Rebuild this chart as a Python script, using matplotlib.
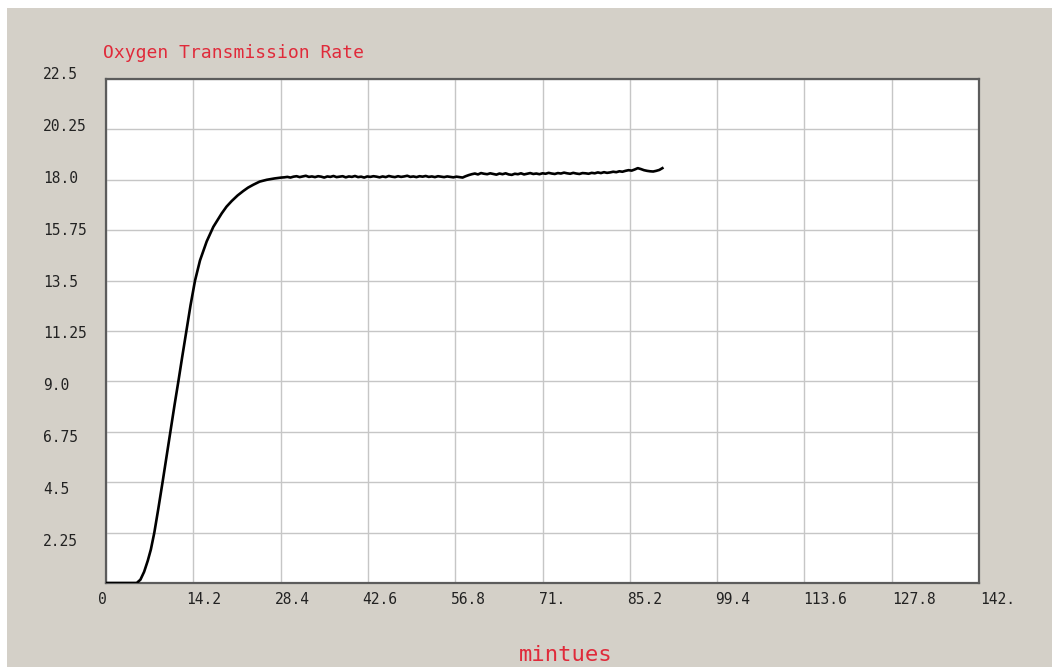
import matplotlib
matplotlib.use("Agg")
import matplotlib.pyplot as plt
from matplotlib.patches import Rectangle

# ---- data ----
x_ticks = [0, 14.2, 28.4, 42.6, 56.8, 71.0, 85.2, 99.4, 113.6, 127.8, 142.0]
x_tick_labels = ["0", "14.2", "28.4", "42.6", "56.8", "71.", "85.2", "99.4", "113.6", "127.8", "142."]
y_ticks = [2.25, 4.5, 6.75, 9.0, 11.25, 13.5, 15.75, 18.0, 20.25, 22.5]
y_tick_labels = ["2.25", "4.5", "6.75", "9.0", "11.25", "13.5", "15.75", "18.0", "20.25", "22.5"]

# rising part of the curve
rise_minutes = [0.0, 2.5, 5.0, 5.6, 6.2, 6.8, 7.3, 7.86, 8.5, 9.2, 9.85, 10.5, 11.15, 11.8,
                12.4, 13.05, 13.75, 14.48, 15.29, 16.38, 17.46, 18.82, 19.6, 20.44, 21.4,
                22.33, 23.1, 23.96, 25.0, 26.14, 27.4, 28.5]
rise_otr = [0.0, 0.0, 0.0, 0.15, 0.5, 1.0, 1.5, 2.25, 3.3, 4.5, 5.65, 6.8, 7.95, 9.05,
            10.1, 11.2, 12.4, 13.5, 14.4, 15.25, 15.9, 16.5, 16.8, 17.05, 17.3,
            17.5, 17.65, 17.78, 17.92, 18.0, 18.06, 18.1]

# plateau part of the curve (read every half minute)
plateau_minutes = [29.0, 29.5, 30.0, 30.5, 31.0, 31.5, 32.0, 32.5, 33.0, 33.5,
                   34.0, 34.5, 35.0, 35.5, 36.0, 36.5, 37.0, 37.5, 38.0, 38.5,
                   39.0, 39.5, 40.0, 40.5, 41.0, 41.5, 42.0, 42.5, 43.0, 43.5,
                   44.0, 44.5, 45.0, 45.5, 46.0, 46.5, 47.0, 47.5, 48.0, 48.5,
                   49.0, 49.5, 50.0, 50.5, 51.0, 51.5, 52.0, 52.5, 53.0, 53.5,
                   54.0, 54.5, 55.0, 55.5, 56.0, 56.5, 57.0, 57.5, 58.0, 58.5,
                   59.0, 59.5, 60.0, 60.5, 61.0, 61.5, 62.0, 62.5, 63.0, 63.5,
                   64.0, 64.5, 65.0, 65.5, 66.0, 66.5, 67.0, 67.5, 68.0, 68.5,
                   69.0, 69.5, 70.0, 70.5, 71.0, 71.5, 72.0, 72.5, 73.0, 73.5,
                   74.0, 74.5, 75.0, 75.5, 76.0, 76.5, 77.0, 77.5, 78.0, 78.5,
                   79.0, 79.5, 80.0, 80.5, 81.0, 81.5, 82.0, 82.5, 83.0, 83.5,
                   84.0, 84.5, 85.0, 85.5, 86.0, 86.5, 87.0, 87.5, 88.0, 88.5,
                   89.0, 89.5, 90.0, 90.5]
plateau_otr = [18.11, 18.13, 18.10, 18.14, 18.16, 18.12, 18.15, 18.18, 18.13, 18.15,
               18.12, 18.16, 18.14, 18.10, 18.15, 18.13, 18.17, 18.12, 18.14, 18.16,
               18.11, 18.15, 18.13, 18.17, 18.12, 18.14, 18.10, 18.15, 18.13, 18.16,
               18.14, 18.11, 18.15, 18.12, 18.17, 18.14, 18.12, 18.16, 18.13, 18.15,
               18.18, 18.13, 18.15, 18.12, 18.16, 18.14, 18.17, 18.13, 18.15, 18.12,
               18.16, 18.14, 18.12, 18.15, 18.13, 18.11, 18.14, 18.12, 18.10, 18.16,
               18.21, 18.25, 18.28, 18.24, 18.30, 18.27, 18.25, 18.29, 18.26, 18.23,
               18.28, 18.25, 18.29, 18.24, 18.22, 18.27, 18.25, 18.29, 18.24, 18.27,
               18.30, 18.26, 18.28, 18.25, 18.29, 18.27, 18.31, 18.28, 18.26, 18.30,
               18.28, 18.32, 18.29, 18.27, 18.31, 18.28, 18.26, 18.30, 18.29, 18.27,
               18.31, 18.29, 18.33, 18.30, 18.34, 18.31, 18.33, 18.36, 18.34, 18.38,
               18.36, 18.40, 18.43, 18.41, 18.46, 18.52, 18.48, 18.43, 18.40, 18.38,
               18.37, 18.40, 18.44, 18.52]

minutes = rise_minutes + plateau_minutes
otr = rise_otr + plateau_otr

title_text = "Oxygen Transmission Rate"
x_label_text = "mintues"

# ---- figure ----
W, H, DPI = 1052, 667, 100
bg = "#d4d0c8"
red = "#e02a3a"
mono = ["DejaVu Sans Mono"]

fig = plt.figure(figsize=(W / DPI, H / DPI), dpi=DPI, facecolor=bg)

# white strips along top and left edges of the screenshot
fig.patches.append(Rectangle((0, 1 - 8 / H), 1, 8 / H, transform=fig.transFigure,
                             facecolor="white", edgecolor="none", zorder=0))
fig.patches.append(Rectangle((0, 0), 7 / W, 1, transform=fig.transFigure,
                             facecolor="white", edgecolor="none", zorder=0))

def px_axes(left, top, right, bottom):
    return [left / W, 1 - bottom / H, (right - left) / W, (bottom - top) / H]

ax = fig.add_axes(px_axes(106, 79, 979, 583))
ax.set_facecolor("white")
ax.plot(minutes, otr, color="black", lw=1.9, solid_joinstyle="round", zorder=3)
ax.set_xlim(0, 142)
ax.set_ylim(0, 22.5)
ax.set_xticks(x_ticks)
ax.set_yticks(y_ticks)
ax.tick_params(length=0, labelbottom=False, labelleft=False)
ax.grid(True, color="#c6c6c6", lw=1.0)
for s in ax.spines.values():
    s.set_color("#5c5c5c")
    s.set_linewidth(1.6)
ax.set_axisbelow(True)

# tick labels (original software places them on a slightly wider scale)
lab = fig.add_axes(px_axes(98, 73, 980, 592))
lab.patch.set_visible(False)
for s in lab.spines.values():
    s.set_visible(False)
lab.set_xlim(0, 142)
lab.set_ylim(0, 22.5)
lab.set_xticks(x_ticks)
lab.set_xticklabels(x_tick_labels, family=mono, fontsize=10.5, color="#222222")
lab.set_yticks(y_ticks)
lab.set_yticklabels(y_tick_labels, family=mono, fontsize=10.5, color="#222222")
lab.tick_params(axis="x", length=0, pad=8 * 72 / DPI)
lab.tick_params(axis="y", length=0, pad=55 * 72 / DPI)
for t in lab.get_xticklabels():
    t.set_ha("left")
    t.set_va("center")
for t in lab.get_yticklabels():
    t.set_ha("left")

# title and axis label
ax.text((103 - 106) / 873, (583 - 53) / 504, title_text, transform=ax.transAxes,
        ha="left", va="center", color=red, fontsize=13, family=mono)
ax.set_xlabel(x_label_text, color=red, fontsize=16, family=mono, va="center")
ax.xaxis.set_label_coords((566 - 106) / 873, -(655 - 583) / 504)

fig.savefig("out.png", dpi=DPI, facecolor=bg)
